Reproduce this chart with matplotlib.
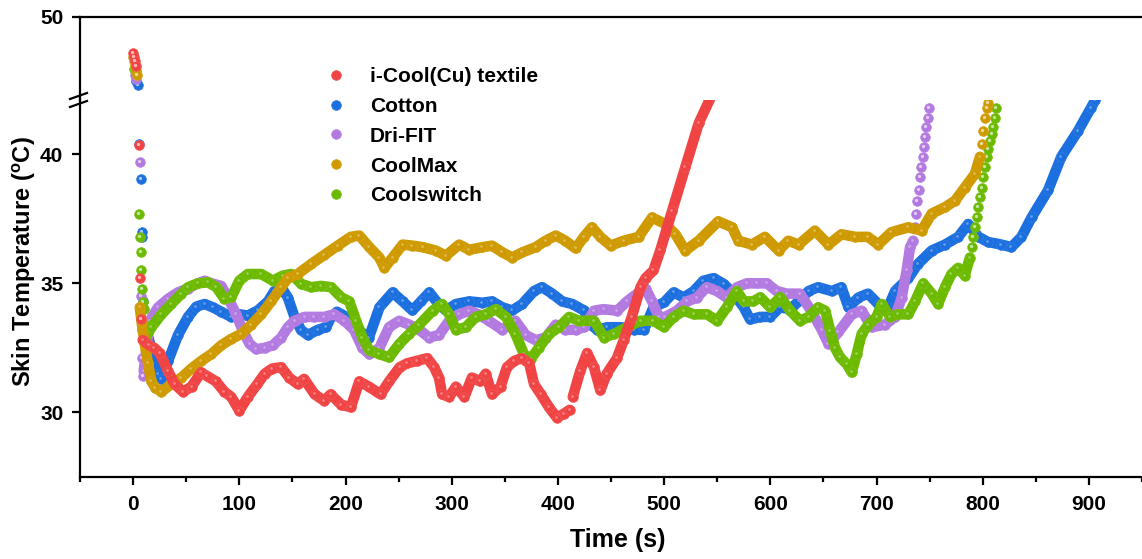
import matplotlib
matplotlib.use("Agg")
import matplotlib.pyplot as plt
from matplotlib.lines import Line2D
from matplotlib.transforms import ScaledTranslation
import numpy as np

plt.rcParams["font.family"] = ["Liberation Sans", "DejaVu Sans"]
plt.rcParams["font.weight"] = "bold"
plt.rcParams["mathtext.fontset"] = "custom"
plt.rcParams["mathtext.rm"] = "Liberation Sans:bold"
plt.rcParams["mathtext.bf"] = "Liberation Sans:bold"

# ---------------- data: skin temperature (°C) vs time (s) ----------------
labels = ["i-Cool(Cu) textile", "Cotton", "Dri-FIT", "CoolMax", "Coolswitch"]
colors = ["#F04444", "#1B6FDE", "#B279E0", "#CF9A00", "#6CBA00"]

# i-Cool(Cu) textile
icool_start_t = [0, 1, 2, 3, 5.5, 6.3, 7.5]
icool_start_T = [48.6, 48.45, 48.3, 48.1, 40.35, 35.2, 33.6]
icool_t = [9, 15, 20, 25, 33, 39, 47, 55, 64, 70, 78, 86, 92.5, 100, 108, 117, 124,
           131, 139.5, 147, 155, 161, 171, 180, 186, 196, 205, 213, 222, 233, 241,
           251, 258, 267.5, 277, 283.5, 288, 291, 297.6, 304, 312, 319, 327, 332,
           338, 346, 352, 359, 366, 373, 377.5, 384, 391.6, 399, 405.6, 411]
icool_T = [32.8, 32.6, 32.5, 32.3, 31.6, 31.1, 30.8, 31.0, 31.55, 31.4, 31.2, 30.8,
           30.6, 30.07, 30.6, 31.1, 31.5, 31.7, 31.75, 31.35, 31.1, 31.3, 30.7,
           30.45, 30.7, 30.3, 30.2, 31.2, 31.0, 30.7, 31.2, 31.75, 31.9, 32.0, 32.1,
           31.75, 31.35, 30.7, 30.6, 31.0, 30.6, 31.35, 31.2, 31.5, 30.7, 31.0,
           31.75, 32.0, 32.1, 31.9, 31.1, 30.7, 30.2, 29.8, 29.95, 30.1]
icool_end_t = [414, 421, 427.5, 434, 440, 446, 455.6, 462, 469.6, 477.8, 482.5, 490,
               496.6, 507.5, 520, 532.6, 545]
icool_end_T = [30.6, 31.6, 32.3, 31.75, 30.85, 31.5, 32.1, 32.8, 33.7, 34.85, 35.2,
               35.5, 36.3, 37.8, 39.5, 41.2, 42.3]

# Cotton
cotton_start_t = [3, 4.5, 5.5, 7, 8, 8.7, 9.5]
cotton_start_T = [47.5, 47.35, 40.4, 39.05, 37.0, 36.8, 34.3]
cotton_t = [11, 17, 23.5, 26.7, 33, 42.3, 51.7, 59.6, 67.4, 75, 83, 92.5, 100, 108,
            117.5, 127, 133, 139.5, 145.7, 152, 158, 164.5, 174, 181.8, 186.5, 192,
            200.5, 208, 215, 222, 232, 244.4, 253.8, 263, 271, 279, 286.6, 294.5,
            304, 316.5, 329, 338, 347.7, 357, 366.5, 377.5, 385, 394.7, 404, 413.5,
            424.5, 431, 437, 446.5, 459, 471.5, 481, 490, 500, 509, 518.5, 527.9,
            537, 546.6, 556, 565.5, 575, 581, 590.6, 600, 609, 618.8, 626.6, 636,
            645, 658, 667, 673.6, 683, 692, 701.6, 711, 717.5, 730, 739, 752, 764.5,
            777, 786.4, 796, 805, 817.7, 827, 836.5, 846, 861.5, 874, 889.7, 902, 906]
cotton_T = [33.4, 32.5, 31.5, 31.3, 32.0, 33.0, 33.7, 34.1, 34.2, 34.07, 33.9, 33.7,
            33.8, 33.75, 33.95, 34.3, 34.7, 34.85, 34.45, 33.7, 33.2, 33.0, 33.2,
            33.3, 33.7, 33.9, 33.7, 33.4, 33.1, 32.9, 34.07, 34.65, 34.3, 33.95,
            34.3, 34.65, 34.25, 33.95, 34.2, 34.3, 34.25, 34.3, 34.07, 33.95, 34.2,
            34.7, 34.85, 34.6, 34.3, 34.2, 33.95, 33.4, 33.2, 33.3, 33.3, 33.2, 33.2,
            34.07, 34.26, 34.65, 34.45, 34.7, 35.1, 35.2, 34.98, 34.6, 34.07, 33.6,
            33.7, 33.7, 34.07, 34.0, 34.3, 34.7, 34.85, 34.7, 34.85, 34.07, 34.45,
            34.6, 34.2, 34.07, 34.7, 35.2, 35.75, 36.27, 36.5, 36.8, 37.3, 36.8,
            36.6, 36.5, 36.4, 36.8, 37.55, 38.6, 39.9, 40.9, 41.8, 42.1]

# Dri-FIT
drifit_start_t = [2, 3, 6.3, 7.5, 8, 8.5, 9]
drifit_start_T = [47.75, 47.6, 39.7, 34.5, 33.2, 32.1, 31.4]
drifit_t = [10, 13, 15.7, 23.5, 33, 42.3, 51.7, 61, 67.4, 73.7, 83, 89.3, 97, 103,
            109.7, 116, 123.8, 131.6, 139.5, 145.7, 152, 161.4, 170.8, 180, 189.6,
            199, 208, 216, 222.5, 231.9, 241, 250.6, 260, 269.5, 278.8, 288, 297.6,
            307, 316.5, 325, 335, 347.7, 360, 369.7, 379, 388.5, 398, 407, 416.7,
            424.5, 434, 443, 455.8, 465, 474.6, 482.5, 488.7, 495, 501, 512, 521.6,
            531, 540, 549.8, 559, 568.6, 578, 587.4, 596.8, 606, 615.6, 628, 639,
            648.5, 654.8, 664, 676.7, 686, 695.5, 708, 717.5, 723.7, 728.4, 731.6,
            734.6]
drifit_T = [31.6, 32.6, 33.55, 34.07, 34.4, 34.65, 34.8, 35.0, 35.1, 35.0, 34.9,
            34.45, 33.8, 33.2, 32.65, 32.45, 32.5, 32.6, 32.9, 33.3, 33.55, 33.7,
            33.7, 33.7, 33.8, 33.55, 33.2, 32.5, 32.25, 32.5, 33.3, 33.55, 33.4,
            33.2, 32.9, 33.0, 33.55, 33.8, 33.94, 33.8, 33.55, 33.2, 33.55, 33.0,
            32.8, 32.9, 33.4, 33.2, 33.2, 33.3, 33.94, 34.0, 33.94, 34.3, 34.6, 34.8,
            34.3, 33.7, 33.7, 33.94, 34.3, 34.45, 34.85, 34.7, 34.45, 34.85, 35.0,
            35.0, 35.0, 34.7, 34.6, 34.6, 33.9, 33.2, 32.65, 33.1, 33.8, 33.94, 33.3,
            33.4, 33.7, 34.45, 35.5, 36.4, 36.65]
drifit_end_t = [736.0, 737.3, 738.6, 739.8, 741.0, 742.2, 743.4, 744.6, 745.8, 747.0,
                748.3, 749.6]
drifit_end_T = [37.17, 37.7, 38.2, 38.6, 39.1, 39.5, 39.9, 40.27, 40.65, 41.05,
                41.4, 41.8]

# CoolMax
coolmax_start_t = [0, 1, 2, 3, 4]
coolmax_start_T = [48.45, 48.3, 48.1, 47.95, 47.75]
coolmax_t = [6.3, 8, 11, 14, 17.3, 21, 26.7, 36, 45.5, 54.9, 64.3, 73.7, 83, 92.5,
             101.9, 111.3, 120.7, 130, 139.5, 145.7, 155, 167.7, 180, 192.7, 205,
             213, 222.5, 231.9, 236.6, 244.4, 253.8, 263, 272.6, 285, 294.5, 307,
             316.5, 329, 338, 347.7, 357, 366.5, 379, 388.5, 398, 407, 416.7, 424.5,
             432, 440, 449.6, 462, 476, 488.7, 501, 510.7, 520, 532.6, 551, 564, 570,
             582.7, 595, 607.8, 617, 626.6, 642, 654.8, 667, 680, 692, 701.6, 714,
             730, 742.5, 752, 764.5, 774, 783, 792.7, 797.4]
coolmax_T = [34.07, 33.5, 32.65, 31.9, 31.2, 30.95, 30.8, 31.1, 31.35, 31.7, 32.0,
             32.26, 32.6, 32.85, 33.04, 33.4, 33.8, 34.3, 34.85, 35.2, 35.36, 35.75,
             36.1, 36.46, 36.8, 36.85, 36.4, 36.0, 35.6, 36.0, 36.5, 36.46, 36.4,
             36.27, 36.07, 36.5, 36.3, 36.4, 36.46, 36.2, 36.0, 36.2, 36.4, 36.65,
             36.85, 36.65, 36.35, 36.8, 37.17, 36.8, 36.46, 36.65, 36.8, 37.55, 37.3,
             36.9, 36.27, 36.65, 37.4, 37.17, 36.65, 36.5, 36.8, 36.27, 36.65, 36.5,
             37.04, 36.5, 36.9, 36.8, 36.8, 36.5, 36.98, 37.17, 37.04, 37.7, 37.95,
             38.2, 38.7, 39.24, 39.9]
coolmax_end_t = [799, 800.5, 802, 803.6, 804.6]
coolmax_end_T = [40.4, 40.9, 41.4, 41.8, 42.0]

# Coolswitch
coolswitch_start_t = [1, 2, 3, 5.7, 6.3, 7, 7.8, 8.5, 9.2, 10, 11]
coolswitch_start_T = [48.0, 47.95, 47.85, 37.7, 36.8, 36.2, 35.5, 34.8, 34.26, 34.0,
                      33.4]
coolswitch_t = [12.6, 17.3, 26.7, 36, 45.5, 51.7, 61, 70.5, 78.4, 86, 92.5, 100, 108,
                120.7, 131.6, 141, 148.9, 158.3, 167.7, 177, 186.5, 196, 203.6, 210,
                216, 222.5, 231.9, 241, 250.6, 260, 269.5, 282, 291, 297.6, 304,
                313.3, 322.7, 332, 341.5, 351, 360, 368, 374.4, 382, 391.6, 401,
                410.6, 420, 434, 443.5, 452.7, 465, 477.8, 490, 500, 509, 518.5,
                527.9, 540.4, 550, 559, 568.6, 575, 584, 590.6, 600, 609.4, 618.8,
                628, 636, 645, 651.7, 656.4, 661, 665.8, 672, 676.7, 681.4, 686,
                692.4, 700, 705, 712.8, 720.6, 730, 736.3, 744, 752, 758, 764.5,
                770.6, 777, 783, 788]
coolswitch_T = [32.97, 33.3, 33.8, 34.2, 34.6, 34.85, 35.0, 35.04, 34.85, 34.4,
                34.46, 35.1, 35.36, 35.36, 35.1, 35.3, 35.36, 34.98, 34.85, 34.9,
                34.85, 34.46, 34.3, 33.55, 32.9, 32.4, 32.26, 32.13, 32.65, 33.04,
                33.4, 33.94, 34.2, 33.8, 33.2, 33.3, 33.7, 33.8, 34.0, 33.7, 33.04,
                32.26, 32.07, 32.5, 33.04, 33.3, 33.7, 33.55, 33.55, 32.9, 33.04,
                33.3, 33.55, 33.55, 33.3, 33.7, 33.94, 33.8, 33.8, 33.55, 34.07,
                34.7, 34.3, 34.3, 34.46, 34.07, 34.46, 33.94, 33.55, 33.7, 34.07,
                33.94, 33.17, 32.5, 32.13, 31.87, 31.55, 32.26, 33.04, 33.4, 33.7,
                34.2, 33.7, 33.8, 33.8, 34.3, 35.0, 34.6, 34.2, 34.85, 35.36, 35.6,
                35.3, 36.0]
coolswitch_end_t = [789.5, 791, 792.6, 794.2, 795.8, 797.4, 799, 800.6, 802.2, 803.7,
                    805.3, 806.8, 808.4, 810, 811.5, 812.5]
coolswitch_end_T = [36.4, 36.8, 37.17, 37.55, 37.95, 38.33, 38.7, 39.1, 39.5, 39.9,
                    40.2, 40.5, 40.8, 41.05, 41.4, 41.8]

xticks = [0, 100, 200, 300, 400, 500, 600, 700, 800, 900]
yticks_low = [30, 35, 40]
yticks_high = [50]

# ---------------- figure ----------------
W, H = 1142, 559
fig = plt.figure(figsize=(W / 100, H / 100), dpi=100)
left, right = 80 / W, 1.0
y_bot, y_brk, y_top = 1 - 477 / H, 1 - 100 / H, 1 - 17 / H
ax_lo = fig.add_axes([left, y_bot, right - left, y_brk - y_bot])
ax_hi = fig.add_axes([left, y_brk, right - left, y_top - y_brk], sharex=ax_lo)

ax_lo.set_xlim(-50, 950)
ax_lo.set_ylim(27.5, 42.1)
ax_hi.set_ylim(46.78, 50)

ms = 7.0     # sphere diameter (pt)
band = 7.6   # width of dense traces (pt)


def lighten(c, f):
    rgb = np.array(matplotlib.colors.to_rgb(c))
    return tuple(rgb + (1 - rgb) * f)


def spheres(ax, t, T, c, z, with_band):
    if with_band:
        ax.plot(t, T, color=c, lw=band, solid_joinstyle="round",
                solid_capstyle="round", zorder=z)
    ax.plot(t, T, ls="none", marker="o", ms=ms, mfc=c, mec=lighten(c, 0.1),
            mew=0.5, zorder=z + 0.1)
    shift = ScaledTranslation(-1.0 / 100, 1.0 / 100, fig.dpi_scale_trans)
    ax.plot(t, T, ls="none", marker="o", ms=2.0 if with_band else 2.4,
            mfc=lighten(c, 0.7), mec="none", alpha=0.45 if with_band else 0.9,
            zorder=z + 0.2, transform=ax.transData + shift)


series = [
    (icool_start_t, icool_start_T, [(icool_t, icool_T), (icool_end_t, icool_end_T)], []),
    (cotton_start_t, cotton_start_T, [(cotton_t, cotton_T)], []),
    (drifit_start_t, drifit_start_T, [(drifit_t, drifit_T)], [(drifit_end_t, drifit_end_T)]),
    (coolmax_start_t, coolmax_start_T, [(coolmax_t, coolmax_T)], [(coolmax_end_t, coolmax_end_T)]),
    (coolswitch_start_t, coolswitch_start_T, [(coolswitch_t, coolswitch_T)],
     [(coolswitch_end_t, coolswitch_end_T)]),
]
zorders = [10, 2, 4, 8, 6]

for (st, sT, bands, dots), c, z in zip(series, colors, zorders):
    for ax in (ax_lo, ax_hi):
        spheres(ax, st, sT, c, z, False)
        for bt, bT in bands:
            spheres(ax, bt, bT, c, z, True)
        for dt, dT in dots:
            spheres(ax, dt, dT, c, z, False)

# ---------------- axes styling ----------------
for ax in (ax_lo, ax_hi):
    ax.spines["right"].set_visible(False)
    for s in ax.spines.values():
        s.set_linewidth(1.6)
    ax.tick_params(axis="both", which="major", direction="out", length=6, width=1.6,
                   labelsize=15, pad=6)
    ax.tick_params(axis="x", which="minor", direction="out", length=3.5, width=1.6)
    ax.set_facecolor("none")

ax_lo.spines["top"].set_visible(False)
ax_hi.spines["bottom"].set_visible(False)

ax_lo.set_xticks(xticks)
ax_lo.set_xticks([x + 50 for x in [-100] + xticks], minor=True)
ax_lo.tick_params(axis="x", pad=7)
ax_lo.set_yticks(yticks_low)
ax_hi.set_yticks(yticks_high)
ax_hi.tick_params(axis="x", which="both", bottom=False, labelbottom=False)
for lab in ax_lo.get_xticklabels() + ax_lo.get_yticklabels() + ax_hi.get_yticklabels():
    lab.set_fontweight("bold")

# axis break marks on the left spine
for yb in (96, 104):
    fig.add_artist(Line2D([70 / W, 87 / W], [1 - (yb + 3) / H, 1 - (yb - 3) / H],
                          color="black", lw=1.6, transform=fig.transFigure))

# axis titles
fig.text(618 / W, 1 - 540 / H, "Time (s)", ha="center", va="center",
         fontsize=18, fontweight="bold")
fig.text(24 / W, 1 - 262 / H, r"Skin Temperature ($\mathbf{^{o}}$C)", ha="center",
         va="center", rotation=90, fontsize=17, fontweight="bold")

# legend
handles = [Line2D([], [], ls="none", marker="o", ms=ms, mfc=c, mec=lighten(c, 0.1),
                  mew=0.5) for c in colors]
fig.legend(handles, labels, loc="upper left", bbox_to_anchor=(326 / W, 1 - 67 / H),
           frameon=False, handlelength=1.0, handletextpad=1.1,
           labelspacing=0.52, borderpad=0, borderaxespad=0,
           prop={"weight": "bold", "size": 15})

fig.savefig("out.png", dpi=100)
